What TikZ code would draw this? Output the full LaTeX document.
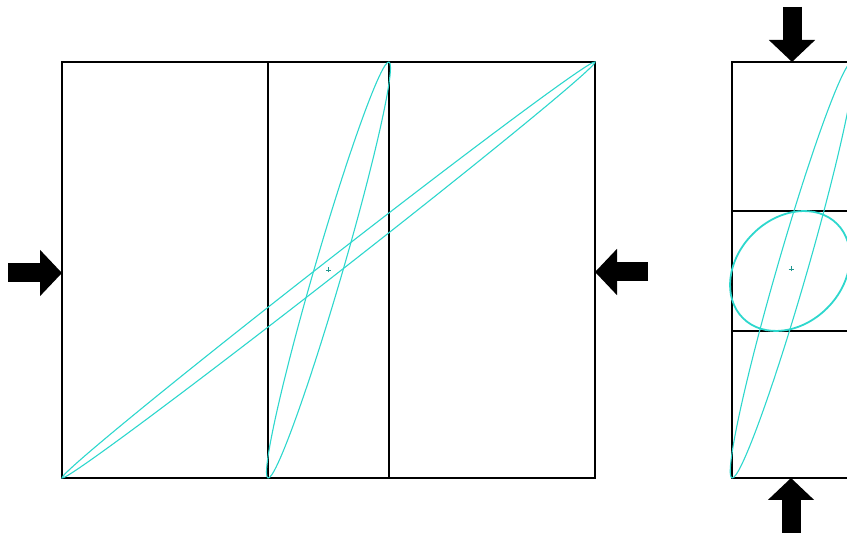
\documentclass[tikz,border=0pt]{standalone}
\usepackage{tikz}
\usetikzlibrary{arrows.meta}
\definecolor{strain}{RGB}{45,215,205}

\begin{document}
\begin{tikzpicture}[
    x=1pt, y=1pt,
    frame/.style={draw=black, line width=1.8pt},
    strainline/.style={draw=strain, line width=1.1pt},
    centermark/.style={draw=strain!70!black, line width=0.7pt},
    push/.style={-{Triangle[length=22pt, width=45pt]}, line width=19pt, black}
]
\useasboundingbox (0,0) rectangle (847,533);

% left block, shortened sideways
\draw[frame] (62,55) rectangle (595,471);
\draw[frame] (268,55) -- (268,471);
\draw[frame] (389,55) -- (389,471);

\draw[strainline, rotate around={37.97:(328.5,263)}] (328.5,263) ellipse (338 and 8);
\draw[strainline, rotate around={73.78:(328.5,263)}] (328.5,263) ellipse (216.6 and 14);
\draw[centermark] (326,263) -- (331,263) (328.5,260.5) -- (328.5,265.5);

% right block, shortened vertically
\draw[frame] (732,55) rectangle (852,471);
\draw[frame] (732,202) -- (852,202);
\draw[frame] (732,322) -- (852,322);

\draw[strainline, rotate around={73.9:(792,263)}] (792,263) ellipse (216.5 and 15);
\draw[strainline, line width=1.8pt, rotate around={45:(790,262)}] (790,262) ellipse (66.6 and 52.5);
\draw[centermark] (788.5,264) -- (793.5,264) (791,261.5) -- (791,266.5);

% loading arrows
\coordinate (lefttail) at (8,260);
\coordinate (lefttip) at (62,260);
\coordinate (righttail) at (648,261);
\coordinate (righttip) at (595,261);
\coordinate (toptail) at (792,526);
\coordinate (toptip) at (792,471);
\coordinate (bottail) at (791,0);
\coordinate (bottip) at (791,55);

\draw[push] (lefttail) -- (lefttip);
\draw[push] (righttail) -- (righttip);
\draw[push] (toptail) -- (toptip);
\draw[push] (bottail) -- (bottip);

\end{tikzpicture}
\end{document}
